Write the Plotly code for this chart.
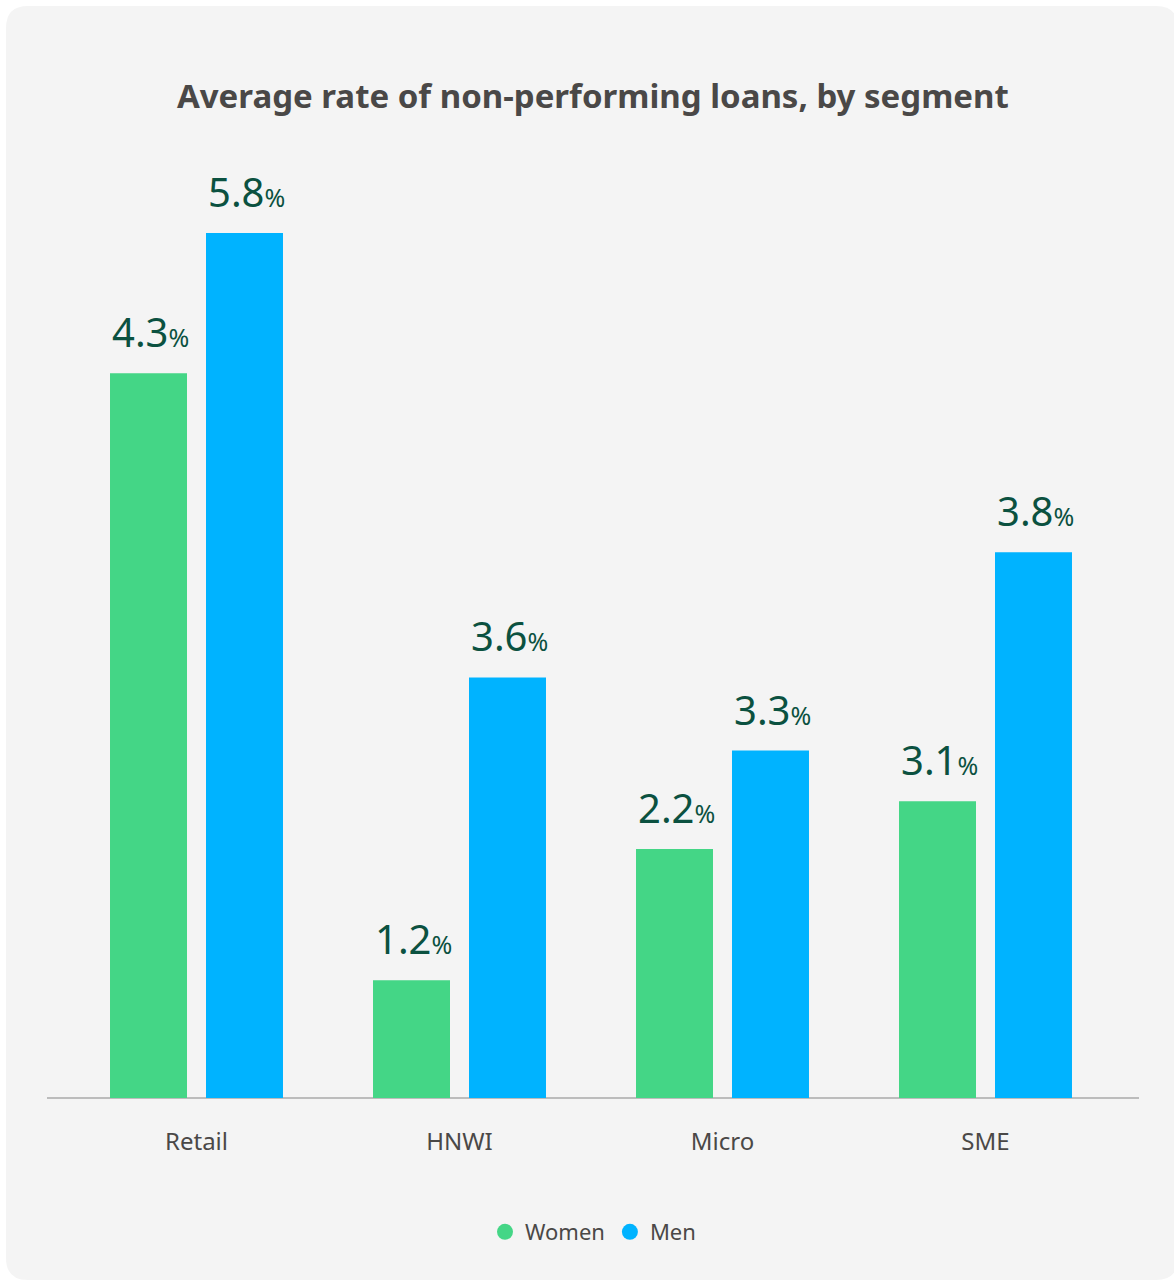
import plotly.graph_objects as go

# ---- data ----
segments = ["Retail", "HNWI", "Micro", "SME"]
series_names = ["Women", "Men"]
# displayed rate labels (as printed on the chart)
women_labels = [4.3, 1.2, 2.2, 3.1]
men_labels = [5.8, 3.6, 3.3, 3.8]
# bar heights as drawn in the picture (same scale as Retail/Men = 5.8)
women_heights = [4.86, 0.79, 1.67, 1.99]
men_heights = [5.80, 2.82, 2.33, 3.66]

colors = {"Women": "#44D686", "Men": "#00B3FF"}
label_color = "#0B5140"
font_family = "Noto Sans, Open Sans, sans-serif"

W, H = 1174, 1282
ml, mr, mt, mb = 65, 57, 150, 184
pw, ph = W - ml - mr, H - mt - mb

fig = go.Figure()
for name, heights in (("Women", women_heights), ("Men", men_heights)):
    fig.add_trace(go.Bar(
        x=segments, y=heights, name=name, marker_color=colors[name],
        marker_line_width=0, showlegend=False, hoverinfo="skip",
    ))
    # legend entries with round markers
    fig.add_trace(go.Scatter(
        x=[None], y=[None], mode="markers", name=name,
        marker=dict(size=19, color=colors[name], symbol="circle"),
    ))

annotations = []
for name, heights, labels, shift in (
    ("Women", women_heights, women_labels, -48),
    ("Men", men_heights, men_labels, 48),
):
    for seg, h, lab in zip(segments, heights, labels):
        annotations.append(dict(
            x=seg, y=h, xref="x", yref="y", xshift=shift + 2, yshift=12,
            yanchor="bottom", xanchor="center", showarrow=False,
            text=f"{lab:.1f}<span style='font-size:25px'>%</span>",
            font=dict(size=40, color=label_color, family=font_family),
        ))


def px_to_paper_x(px):
    return (px - ml) / pw


def px_to_paper_y(py):
    return (H - mb - py) / ph


# rounded background panel
x0, x1, y0, y1, r = 6, 1178, 6, 1280, 22
X = px_to_paper_x
Y = px_to_paper_y
path = (
    f"M {X(x0 + r)} {Y(y0)} L {X(x1 - r)} {Y(y0)} "
    f"Q {X(x1)} {Y(y0)} {X(x1)} {Y(y0 + r)} "
    f"L {X(x1)} {Y(y1 - r)} Q {X(x1)} {Y(y1)} {X(x1 - r)} {Y(y1)} "
    f"L {X(x0 + r)} {Y(y1)} Q {X(x0)} {Y(y1)} {X(x0)} {Y(y1 - r)} "
    f"L {X(x0)} {Y(y0 + r)} Q {X(x0)} {Y(y0)} {X(x0 + r)} {Y(y0)} Z"
)

fig.update_layout(
    width=W, height=H,
    margin=dict(l=ml, r=mr, t=mt, b=mb, pad=0),
    paper_bgcolor="white",
    plot_bgcolor="rgba(0,0,0,0)",
    barmode="group", bargap=0.27, bargroupgap=0.198,
    title=dict(
        text="<b>Average rate of non-performing loans, by segment</b>",
        x=0.505, xanchor="center", y=1 - 96 / H, yanchor="middle", yref="container",
        font=dict(size=33, color="#4A4847", family=font_family),
    ),
    font=dict(family=font_family),
    shapes=[
        dict(type="path", path=path, xref="paper", yref="paper",
             fillcolor="#F4F4F4", line=dict(width=0), layer="below"),
        dict(type="line", xref="paper", yref="paper", x0=X(47), x1=X(1139), y0=0, y1=0,
             line=dict(color="#AAAAAA", width=1.5), layer="below"),
    ],
    annotations=annotations,
    legend=dict(
        orientation="h", x=px_to_paper_x(593), xanchor="center", y=px_to_paper_y(1232),
        yanchor="middle",
        font=dict(size=22, color="#4A4847", family=font_family),
        bgcolor="rgba(0,0,0,0)", itemsizing="trace",
    ),
    xaxis=dict(
        showgrid=False, zeroline=False, showline=False,
        ticks="", tickfont=dict(size=24, color="#4A4847", family=font_family),
        ticklabelstandoff=27, fixedrange=True,
    ),
    yaxis=dict(
        range=[0, ph / 149.14], showgrid=False, zeroline=False, showticklabels=False,
        showline=False, fixedrange=True,
    ),
)

fig.write_html("out.html")
